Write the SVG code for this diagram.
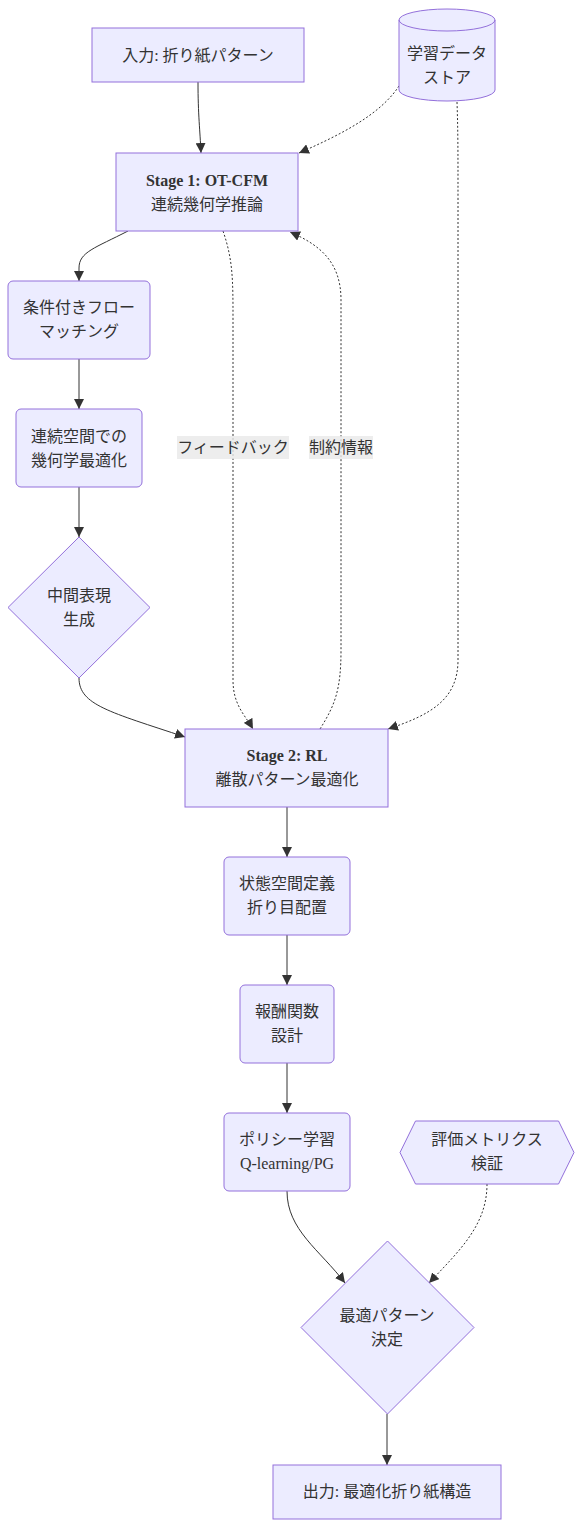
<svg xmlns="http://www.w3.org/2000/svg" width="582" height="1527" viewBox="0 0 582 1527">
<style>
  .node { fill: #ECECFF; stroke: #9370DB; stroke-width: 1; }
  .t { font-family: "Liberation Serif", "Noto Sans CJK JP", serif; font-size: 16px; fill: #333; text-anchor: middle; }
  .b { font-weight: bold; }
  .e { fill: none; stroke: #333; stroke-width: 1; }
  .d { stroke-dasharray: 2 2; }
  .lbl { fill: #e8e8e8; opacity: 0.8; }
</style>
<defs>
  <marker id="arr" markerUnits="userSpaceOnUse" markerWidth="10" markerHeight="10" viewBox="0 0 10 10" refX="10" refY="5" orient="auto">
    <path d="M0,0 L10,5 L0,10 z" fill="#333"/>
  </marker>
</defs>
<rect width="582" height="1527" fill="#fff"/>

<g id="edges">
  <path class="e" d="M198,82 C198,115 200,130 201,153" marker-end="url(#arr)"/>
  <path class="e d" d="M399,86 C380,115 340,135 299,153" marker-end="url(#arr)"/>
  <path class="e" d="M128,231 C95,248 79,252 79,268 L79,281" marker-end="url(#arr)"/>
  <path class="e" d="M79,359 L79,409" marker-end="url(#arr)"/>
  <path class="e" d="M79,487 L79,537" marker-end="url(#arr)"/>
  <path class="e" d="M79,678 C79,705 110,712 185,737" marker-end="url(#arr)"/>
  <path class="e d" d="M223,231 C233,260 233,280 233,320 L233,680 C233,705 245,715 253,729" marker-end="url(#arr)"/>
  <path class="e d" d="M320,729 C335,705 341,690 341,650 L341,300 C341,262 320,245 290,232" marker-end="url(#arr)"/>
  <path class="e d" d="M457,102 C458,130 458,150 458,200 L458,660 C458,700 430,715 388,729" marker-end="url(#arr)"/>
  <path class="e" d="M287,807 L287,857" marker-end="url(#arr)"/>
  <path class="e" d="M287,935 L287,985" marker-end="url(#arr)"/>
  <path class="e" d="M287,1063 L287,1113" marker-end="url(#arr)"/>
  <path class="e" d="M287,1191 C287,1230 320,1250 345,1283" marker-end="url(#arr)"/>
  <path class="e d" d="M487,1184 C487,1225 460,1250 429,1283" marker-end="url(#arr)"/>
  <path class="e" d="M387,1414 L387,1465" marker-end="url(#arr)"/>
  <g id="edge-labels">
    <rect class="lbl" x="177" y="436" width="112" height="23"/>
    <text class="t" x="233" y="453">フィードバック</text>
    <rect class="lbl" x="309" y="436" width="64" height="23"/>
    <text class="t" x="341" y="453">制約情報</text>
  </g>
</g>

<g id="input">
  <rect class="node" x="92" y="28" width="212" height="54"/>
  <text class="t" x="198" y="61">入力: 折り紙パターン</text>
</g>

<g id="datastore">
  <path class="node" d="M399,20 A48,11 0 0 1 495,20 L495,90 A48,11 0 0 1 399,90 Z"/>
  <path fill="none" stroke="#9370DB" stroke-width="1" d="M399,20 A48,11 0 0 0 495,20"/>
  <text class="t" x="447" y="59">学習データ</text>
  <text class="t" x="447" y="83">ストア</text>
</g>

<g id="stage1">
  <rect class="node" x="116" y="153" width="182" height="78"/>
  <text class="t b" x="207" y="186">Stage 1: OT-CFM</text>
  <text class="t" x="207" y="210">連続幾何学推論</text>
</g>

<g id="cfm">
  <rect class="node" x="8" y="281" width="142" height="78" rx="5" ry="5"/>
  <text class="t" x="79" y="313">条件付きフロー</text>
  <text class="t" x="79" y="337">マッチング</text>
</g>

<g id="geomopt">
  <rect class="node" x="16" y="409" width="126" height="78" rx="5" ry="5"/>
  <text class="t" x="79" y="442">連続空間での</text>
  <text class="t" x="79" y="466">幾何学最適化</text>
</g>

<g id="intermediate">
  <polygon class="node" points="79,537 150,607.5 79,678 8,607.5"/>
  <text class="t" x="79" y="601">中間表現</text>
  <text class="t" x="79" y="625">生成</text>
</g>

<g id="stage2">
  <rect class="node" x="185" y="729" width="203" height="78"/>
  <text class="t b" x="287" y="761">Stage 2: RL</text>
  <text class="t" x="287" y="785">離散パターン最適化</text>
</g>

<g id="state">
  <rect class="node" x="224" y="857" width="126" height="78" rx="5" ry="5"/>
  <text class="t" x="287" y="889">状態空間定義</text>
  <text class="t" x="287" y="913">折り目配置</text>
</g>

<g id="reward">
  <rect class="node" x="240" y="985" width="94" height="78" rx="5" ry="5"/>
  <text class="t" x="287" y="1017">報酬関数</text>
  <text class="t" x="287" y="1041">設計</text>
</g>

<g id="policy">
  <rect class="node" x="224" y="1113" width="126" height="78" rx="5" ry="5"/>
  <text class="t" x="287" y="1145">ポリシー学習</text>
  <text class="t" x="287" y="1169">Q-learning/PG</text>
</g>

<g id="metrics">
  <polygon class="node" points="400,1152.5 415.5,1121 558.5,1121 574,1152.5 558.5,1184 415.5,1184"/>
  <text class="t" x="487" y="1145">評価メトリクス</text>
  <text class="t" x="487" y="1169">検証</text>
</g>

<g id="decision">
  <polygon class="node" points="387.5,1241 474,1327.5 387.5,1414 301,1327.5"/>
  <text class="t" x="387" y="1321">最適パターン</text>
  <text class="t" x="387" y="1345">決定</text>
</g>

<g id="output">
  <rect class="node" x="273" y="1465" width="228" height="54"/>
  <text class="t" x="387" y="1497">出力: 最適化折り紙構造</text>
</g>
</svg>
